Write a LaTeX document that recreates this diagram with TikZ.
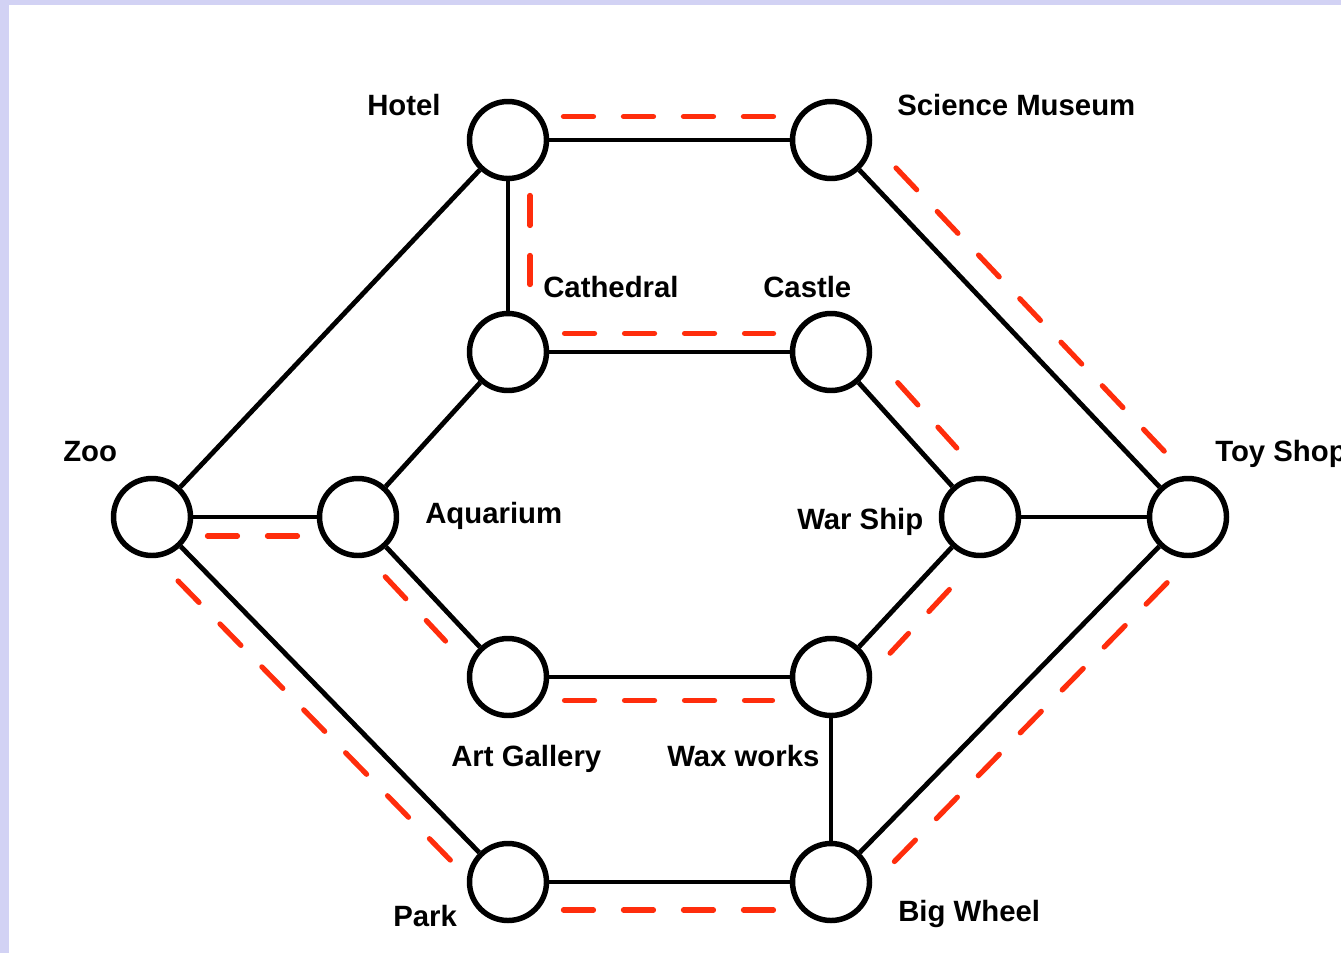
\documentclass[tikz,border=0pt]{standalone}
\usepackage{fontspec}
\setmainfont{Liberation Sans}
\usetikzlibrary{calc}
\definecolor{lav}{RGB}{210,210,244}
\definecolor{routered}{RGB}{255,45,12}
\begin{document}
\begin{tikzpicture}[x=0.75pt,y=-0.75pt,
  stop/.style={circle,draw=black,line width=4.1pt,minimum size=57.75pt,inner sep=0pt,fill=white},
  link/.style={draw=black,line width=3.6pt},
  routeline/.style={draw=routered,line width=3.9pt,line cap=round,dash pattern=on 22.5pt off 22.5pt},
  lbl/.style={font=\bfseries\fontsize{22}{26}\selectfont,inner sep=0pt,anchor=base west}]
\useasboundingbox (0,0) rectangle (1341,953);
\fill[white] (0,0) rectangle (1341,953);
\fill[lav] (0,0) rectangle (9,953);
\fill[lav] (0,0) rectangle (1341,5);

% stations
\node[stop] (hotel)  at (508,140) {};
\node[stop] (sci)    at (831,140) {};
\node[stop] (cath)   at (508,352) {};
\node[stop] (castle) at (831,352) {};
\node[stop] (zoo)    at (152,517) {};
\node[stop] (aqua)   at (358,517) {};
\node[stop] (war)    at (980,517) {};
\node[stop] (toy)    at (1188,517) {};
\node[stop] (art)    at (508,677) {};
\node[stop] (wax)    at (831,677) {};
\node[stop] (park)   at (508,882) {};
\node[stop] (wheel)  at (831,882) {};

% connections
\draw[link] (hotel) -- (sci);
\draw[link] (hotel) -- (zoo);
\draw[link] (hotel) -- (cath);
\draw[link] (sci) -- (toy);
\draw[link] (cath) -- (castle);
\draw[link] (cath) -- (aqua);
\draw[link] (castle) -- (war);
\draw[link] (zoo) -- (aqua);
\draw[link] (zoo) -- (park);
\draw[link] (aqua) -- (art);
\draw[link] (war) -- (toy);
\draw[link] (war) -- (wax);
\draw[link] (art) -- (wax);
\draw[link] (wax) -- (wheel);
\draw[link] (park) -- (wheel);
\draw[link] (wheel) -- (toy);

% route (red dashed)
\draw[routeline,shorten <=41.6pt,shorten >=43.1pt] ($(hotel.center)!17.6pt!90:(sci.center)$) -- ($(sci.center)!17.6pt!-90:(hotel.center)$);
\draw[routeline,shorten <=41.6pt,shorten >=50.6pt] ($(hotel.center)!16.5pt!90:(cath.center)$) -- ($(cath.center)!16.5pt!-90:(hotel.center)$);
\draw[routeline,shorten <=42.4pt,shorten >=43.1pt] ($(cath.center)!13.9pt!90:(castle.center)$) -- ($(castle.center)!13.9pt!-90:(cath.center)$);
\draw[routeline,shorten <=48.75pt,shorten >=48.15pt] ($(sci.center)!21pt!90:(toy.center)$) -- ($(toy.center)!21pt!-90:(sci.center)$);
\draw[routeline,shorten <=50.6pt,shorten >=50.1pt] ($(castle.center)!21.75pt!90:(war.center)$) -- ($(war.center)!21.75pt!-90:(castle.center)$);
\draw[routeline,shorten <=55.5pt,shorten >=43.3pt] ($(war.center)!20.25pt!90:(wax.center)$) -- ($(wax.center)!20.25pt!-90:(war.center)$);
\draw[routeline,shorten <=41.6pt,shorten >=44.85pt] ($(zoo.center)!14.25pt!-90:(aqua.center)$) -- ($(aqua.center)!14.25pt!90:(zoo.center)$);
\draw[routeline,shorten <=46.7pt,shorten >=51.75pt] ($(aqua.center)!15.75pt!-90:(art.center)$) -- ($(art.center)!15.75pt!90:(aqua.center)$);
\draw[routeline,shorten <=42.4pt,shorten >=43.9pt] ($(art.center)!17.6pt!-90:(wax.center)$) -- ($(wax.center)!17.6pt!90:(art.center)$);
\draw[routeline,shorten <=48pt,shorten >=42pt] ($(zoo.center)!19.5pt!-90:(park.center)$) -- ($(park.center)!19.5pt!90:(zoo.center)$);
\draw[routeline,shorten <=41.6pt,shorten >=43.1pt] ($(park.center)!21pt!-90:(wheel.center)$) -- ($(wheel.center)!21pt!90:(park.center)$);
\draw[routeline,shorten <=44.25pt,shorten >=46.2pt] ($(wheel.center)!23.25pt!-90:(toy.center)$) -- ($(toy.center)!23.25pt!90:(wheel.center)$);

% labels
\node[lbl] (lhotel)  at (367,115) {Hotel};
\node[lbl] (lsci)    at (897,115) {Science Museum};
\node[lbl] (lcath)   at (543,297) {Cathedral};
\node[lbl] (lcastle) at (763,297) {Castle};
\node[lbl] (lzoo)    at (63,461) {Zoo};
\node[lbl] (laqua)   at (425,523) {Aquarium};
\node[lbl] (lwar)    at (797,529) {War Ship};
\node[lbl] (ltoy)    at (1215,461) {Toy Shop};
\node[lbl] (lart)    at (451,766) {Art Gallery};
\node[lbl] (lwax)    at (667,766) {Wax works};
\node[lbl] (lpark)   at (393,926) {Park};
\node[lbl] (lwheel)  at (898,921) {Big Wheel};
\end{tikzpicture}
\end{document}
